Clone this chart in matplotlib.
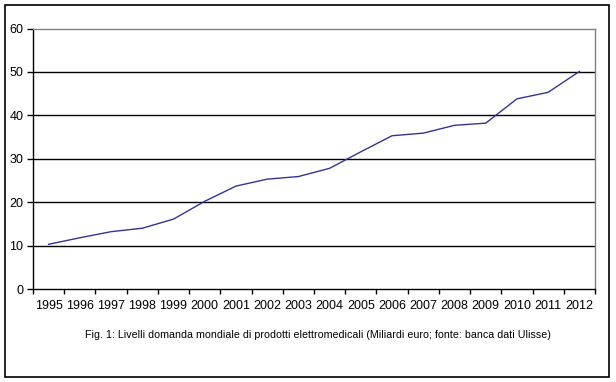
import matplotlib.pyplot as plt
import numpy as np
from matplotlib.patches import Rectangle

years = ["1995", "1996", "1997", "1998", "1999", "2000", "2001", "2002", "2003",
         "2004", "2005", "2006", "2007", "2008", "2009", "2010", "2011", "2012"]
demand = [10.3, 11.8, 13.2, 14.0, 16.1, 20.2, 23.7, 25.3, 25.9,
          27.8, 31.6, 35.3, 35.9, 37.7, 38.2, 43.8, 45.3, 50.1]
caption = "Fig. 1: Livelli domanda mondiale di prodotti elettromedicali (Miliardi euro; fonte: banca dati Ulisse)"

plt.rcParams["font.family"] = ["Liberation Sans", "DejaVu Sans"]

W, H = 616, 382
fig = plt.figure(figsize=(W / 100, H / 100), dpi=100)

# plot area in pixels: x 33..595, y 28.5..289
ax = fig.add_axes([33 / W, 1 - 289 / H, (595 - 33) / W, (289 - 28.5) / H])

x = np.arange(len(years))
ax.plot(x, demand, color="#333399", lw=1.0)

ax.set_xlim(-0.5, len(years) - 0.5)
ax.set_ylim(0, 60)
ax.set_yticks(range(0, 61, 10))
ax.set_xticks(x)
ax.set_xticklabels(years)
ax.set_xticks(np.arange(-0.5, len(years), 1), minor=True)
ax.tick_params(axis="x", which="major", length=0, pad=8, labelsize=9)
ax.tick_params(axis="x", which="minor", length=3.5, width=1, direction="out", color="black")
ax.tick_params(axis="y", length=4, width=1, direction="out", labelsize=9, pad=3)

for v in range(10, 60, 10):
    ax.axhline(v, color="black", lw=1.0, zorder=0)

ax.spines["left"].set_color("black")
ax.spines["bottom"].set_color("black")
ax.spines["top"].set_color("#808080")
ax.spines["right"].set_color("#808080")
for s in ax.spines.values():
    s.set_linewidth(1.0)

fig.text(318 / W, 1 - 335 / H, caption, ha="center", va="center", fontsize=7.7)

fig.patches.append(Rectangle((5.3 / W, 1 - 376.7 / H), (609.3 - 5.3) / W, (376.7 - 5.3) / H,
                             transform=fig.transFigure, fill=False, ec="black", lw=1.2))

fig.savefig("out.png", dpi=100)
